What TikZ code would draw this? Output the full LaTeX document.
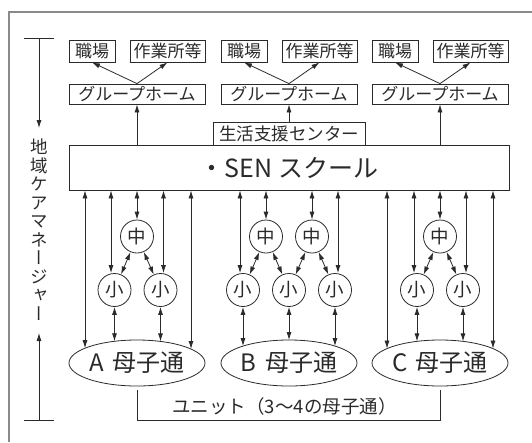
\documentclass[tikz,border=0pt]{standalone}
\usepackage{fontspec}
\usepackage{graphicx}
\setmainfont{Noto Sans CJK JP}
\newfontfamily\cjkv{Noto Sans CJK JP}[RawFeature={+vert}]
\usetikzlibrary{arrows.meta,shapes.geometric,calc}
\definecolor{ink}{HTML}{2A2A2A}
\definecolor{framec}{HTML}{8A8A8A}
\newcommand\ellarrow[2]{%
  \draw[dbl] let \p1=(#2.center), \p2=#1 in #1 -- (\x2,{\y1+23pt*sqrt(1-((\x2-\x1)/68pt)^2)});}
\begin{document}
\begin{tikzpicture}[x=1pt,y=-1pt,
  line/.style={draw=ink,line width=0.8pt},
  single/.style={line,-{Latex[length=8pt,width=5pt]}},
  dbl/.style={line,{Latex[length=8pt,width=5pt]}-{Latex[length=8pt,width=5pt]}},
  lbl/.style={line,inner sep=0pt,minimum height=22pt,text=ink,font=\fontsize{17}{18}\selectfont},
  cir/.style={circle,line,minimum size=33pt,inner sep=0pt,text=ink,font=\fontsize{18.5}{18.5}\selectfont},
  ell/.style={ellipse,line,minimum width=136pt,minimum height=46pt,inner sep=0pt,text=ink,font=\fontsize{24}{24}\selectfont}]
\useasboundingbox (0,0) rectangle (532,442);
% outer frame
\coordinate (f1) at (532,12);
\coordinate (f2) at (9,12);
\coordinate (f3) at (9,442);
\draw[draw=framec,line width=1.4pt] (f1) -- (f2) -- (f3);

% top boxes
\node[lbl,minimum width=46pt] (wA) at (92,51) {職場};
\node[lbl,minimum width=75pt] (kA) at (167.5,51) {作業所等};
\node[lbl,minimum width=46pt] (wB) at (244,51) {職場};
\node[lbl,minimum width=75pt] (kB) at (319.5,51) {作業所等};
\node[lbl,minimum width=46pt] (wC) at (395,51) {職場};
\node[lbl,minimum width=75pt] (kC) at (470.5,51) {作業所等};

% group homes
\node[lbl,minimum width=136pt,minimum height=20pt] (gA) at (137,94) {グループホーム};
\node[lbl,minimum width=136pt,minimum height=20pt] (gB) at (289,94) {グループホーム};
\node[lbl,minimum width=136pt,minimum height=20pt] (gC) at (440,94) {グループホーム};

\draw[single] (gA.north) -- (wA.south);
\draw[single] (gA.north) -- (kA.south);
\draw[single] (gB.north) -- (wB.south);
\draw[single] (gB.north) -- (kB.south);
\draw[single] (gC.north) -- (wC.south);
\draw[single] (gC.north) -- (kC.south);

% life support center and SEN school
\node[lbl,minimum width=152pt,minimum height=23pt,font=\fontsize{17.5}{19}\selectfont] (life) at (289,133.5) {生活支援センター};
\node[lbl,minimum width=440pt,minimum height=45pt,font=\fontsize{25}{27}\selectfont] (sen) at (289,167.5) {・SEN スクール};

\draw[single] (sen.north -| gA) -- (gA.south);
\draw[single] (life.north) -- (gB.south);
\draw[single] (sen.north -| gC) -- (gC.south);

% middle circles
\node[cir] (mA) at (137,236.5) {中};
\node[cir] (mB1) at (266,236.5) {中};
\node[cir] (mB2) at (312,236.5) {中};
\node[cir] (mC) at (440,236.5) {中};
% small circles
\node[cir] (sA1) at (114.5,290) {小};
\node[cir] (sA2) at (160.5,290) {小};
\node[cir] (sB1) at (243,290) {小};
\node[cir] (sB2) at (289,290) {小};
\node[cir] (sB3) at (335,290) {小};
\node[cir] (sC1) at (417,290) {小};
\node[cir] (sC2) at (463,290) {小};
% ellipses
\node[ell] (eA) at (137,363) {A\hspace{0.35em}母子通};
\node[ell] (eB) at (289,363) {B\hspace{0.35em}母子通};
\node[ell] (eC) at (440,363) {C\hspace{0.35em}母子通};

% SEN <-> middle
\draw[dbl] (sen.south -| mA) -- (mA.north);
\draw[dbl] (sen.south -| mB1) -- (mB1.north);
\draw[dbl] (sen.south -| mB2) -- (mB2.north);
\draw[dbl] (sen.south -| mC) -- (mC.north);

% SEN <-> small
\coordinate (lA1) at (111,0);
\coordinate (lA2) at (163.5,0);
\coordinate (lB1) at (240,0);
\coordinate (lB3) at (338,0);
\coordinate (lC1) at (414,0);
\coordinate (lC2) at (466,0);
\draw[dbl] (sen.south -| lA1) -- (lA1 |- sA1.north);
\draw[dbl] (sen.south -| lA2) -- (lA2 |- sA2.north);
\draw[dbl] (sen.south -| lB1) -- (lB1 |- sB1.north);
\draw[dbl] (sen.south -| lB3) -- (lB3 |- sB3.north);
\draw[dbl] (sen.south -| lC1) -- (lC1 |- sC1.north);
\draw[dbl] (sen.south -| lC2) -- (lC2 |- sC2.north);

% middle <-> small
\draw[dbl] (mA) -- (sA1);
\draw[dbl] (mA) -- (sA2);
\draw[dbl] (mB1) -- (sB1);
\draw[dbl] (mB1) -- (sB2);
\draw[dbl] (mB2) -- (sB2);
\draw[dbl] (mB2) -- (sB3);
\draw[dbl] (mC) -- (sC1);
\draw[dbl] (mC) -- (sC2);

% small <-> ellipse
\ellarrow{(sA1.south)}{eA}
\ellarrow{(sA2.south)}{eA}
\ellarrow{(sB1.south)}{eB}
\ellarrow{(sB2.south)}{eB}
\ellarrow{(sB3.south)}{eB}
\ellarrow{(sC1.south)}{eC}
\ellarrow{(sC2.south)}{eC}

% long SEN <-> ellipse
\coordinate (xA1) at (85,0);
\coordinate (xA2) at (191,0);
\coordinate (xC1) at (387,0);
\coordinate (xC2) at (493,0);
\ellarrow{(sen.south -| xA1)}{eA}
\ellarrow{(sen.south -| xA2)}{eA}
\ellarrow{(sen.south -| xC1)}{eC}
\ellarrow{(sen.south -| xC2)}{eC}

% unit bracket
\coordinate (ub1) at (137,420);
\coordinate (ub2) at (440,420);
\draw[line] ([yshift=-4pt]eA.south) -- (ub1) -- (ub2) -- ([yshift=-4pt]eC.south);
\node[text=ink,font=\fontsize{18.5}{18.5}\selectfont,inner sep=0pt] (unit) at (284.5,406) {ユニット（3〜4の母子通）};

% left vertical bracket
\coordinate (kt1) at (24,38);
\coordinate (kt2) at (54,38);
\coordinate (kt) at (39,38);
\coordinate (ka) at (39,128);
\coordinate (kb1) at (24,420.5);
\coordinate (kb2) at (54,420.5);
\coordinate (kb) at (39,420.5);
\coordinate (kc) at (39,333);
\draw[line] (kt1) -- (kt2);
\draw[line] (kb1) -- (kb2);
\draw[single] (kt) -- (ka);
\draw[single] (kb) -- (kc);
\node[text=ink,align=center,inner sep=0pt,font=\cjkv\fontsize{17.5}{18.5}\selectfont] (cm) at (39,229.5)
  {地\\域\\ケ\\ア\\マ\\ネ\\ー\\ジ\\ャ\\ー};
\end{tikzpicture}
\end{document}
